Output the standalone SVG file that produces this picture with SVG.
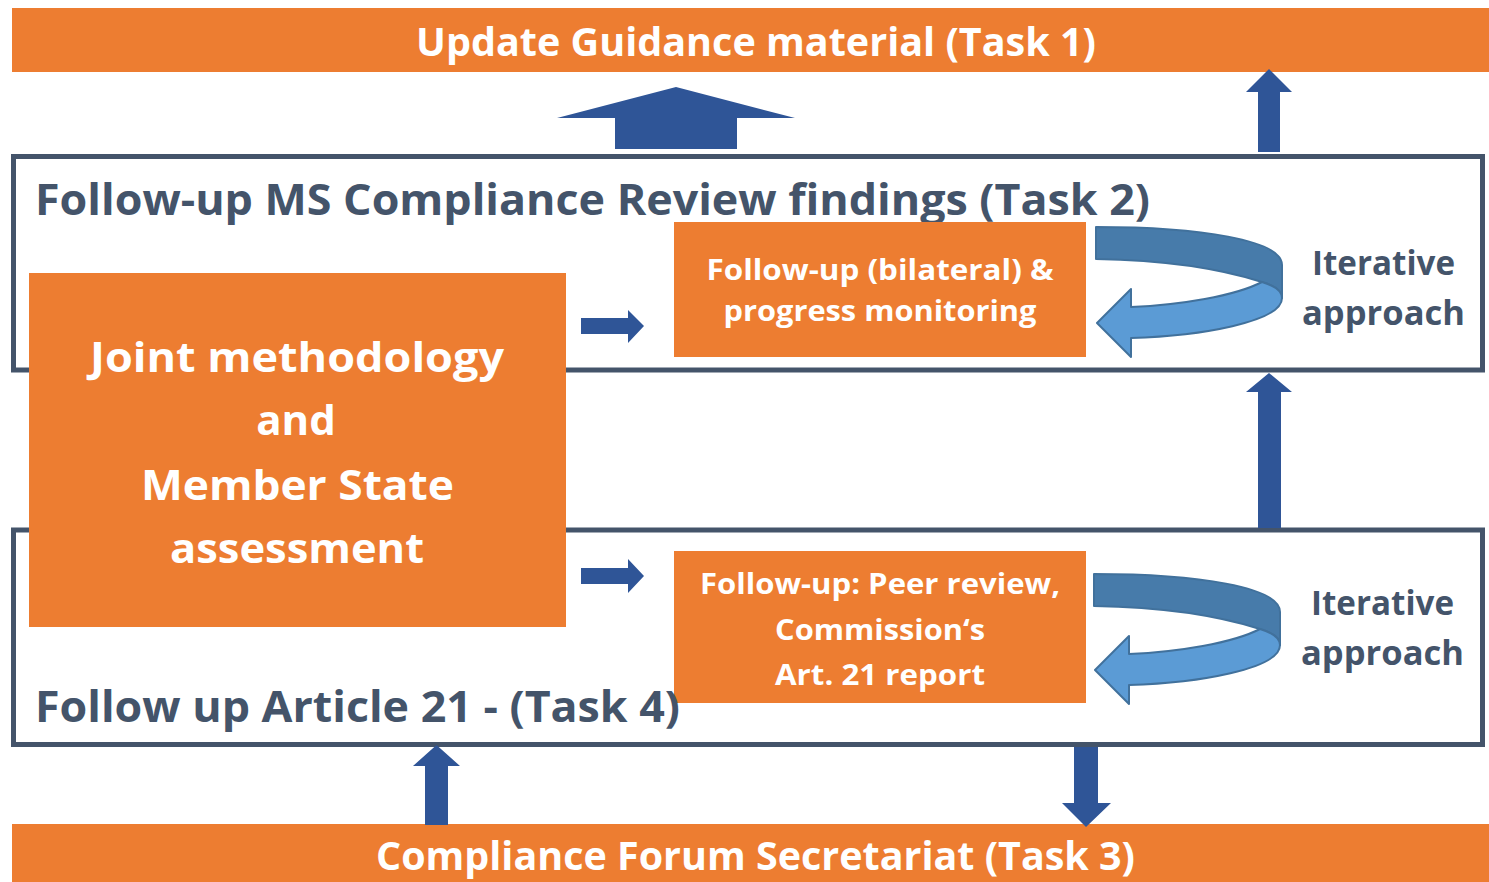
<svg xmlns="http://www.w3.org/2000/svg" xmlns:xlink="http://www.w3.org/1999/xlink" width="1489" height="882" viewBox="0 0 1489 882">
<style>
.bar{fill:#ED7D31}
.box{fill:#ED7D31}
.frame{fill:none;stroke:#44546A;stroke-width:5}
.blue{fill:#2F5597}
.t{font-family:"Open Sans","Noto Sans","Liberation Sans",sans-serif;font-weight:700}
.w{fill:#FFFFFF}
.d{fill:#44546A}
.c{text-anchor:middle}
.back{fill:#477BAA;stroke:#41719C;stroke-width:2;stroke-linejoin:round}
.front{fill:#5B9BD5;stroke:#41719C;stroke-width:2;stroke-linejoin:round}
</style>
<defs>
<g id="loop">
<path class="back" d="M1096,227 C1200,227 1282,240 1282,265 L1282,298 C1282,290 1272,285 1262,282 C1215,267 1160,260 1096,259 Z"/>
<path class="front" d="M1262,282 C1272,285 1282,290 1282,298 C1282,322 1200,336 1131,338 L1131,357 L1097,323 L1131,289 L1131,307 C1180,305 1235,296 1262,282 Z"/>
</g>
</defs>
<rect width="1489" height="882" fill="#FFFFFF"/>

<g id="task1">
<rect class="bar" x="12" y="8" width="1477" height="64"/>
<text class="t w c" x="756" y="56" font-size="39" textLength="680" lengthAdjust="spacingAndGlyphs">Update Guidance material (Task 1)</text>
</g>

<g id="task3">
<rect class="bar" x="12" y="824" width="1477" height="58"/>
<text class="t w c" x="755.5" y="870" font-size="39" textLength="759" lengthAdjust="spacingAndGlyphs">Compliance Forum Secretariat (Task 3)</text>
</g>

<g id="task2">
<rect class="frame" x="13.5" y="156.5" width="1469" height="213.5"/>
<text class="t d" x="35" y="215" font-size="43" textLength="1115" lengthAdjust="spacingAndGlyphs">Follow-up MS Compliance Review findings (Task 2)</text>
</g>

<g id="task4">
<rect class="frame" x="13.5" y="530" width="1469" height="214.5"/>
</g>

<g id="connectors">
<polygon class="blue" points="676,87 795,118 737,118 737,149 615,149 615,118 557,118"/>
<polygon class="blue" points="1269,69 1292,92 1280,92 1280,152 1258,152 1258,92 1246,92"/>
<polygon class="blue" points="1269,373 1292,392 1281,392 1281,528 1258,528 1258,392 1246,392"/>
<polygon class="blue" points="436.5,745 460,766 448,766 448,825 425,825 425,766 413,766"/>
<polygon class="blue" points="1086,827 1111,803 1098,803 1098,747 1074,747 1074,803 1062,803"/>
<polygon class="blue" points="581,318 628,318 628,310 644,326 628,343 628,334 581,334"/>
<polygon class="blue" points="581,568 628,568 628,559 644,576 628,593 628,584 581,584"/>
<use xlink:href="#loop"/>
<use xlink:href="#loop" transform="translate(-2,347)"/>
</g>

<g id="joint">
<rect class="box" x="29" y="273" width="537" height="354"/>
<text class="t w c" font-size="42" x="297" y="372" textLength="414" lengthAdjust="spacingAndGlyphs">Joint methodology</text>
<text class="t w c" font-size="42" x="296" y="435">and</text>
<text class="t w c" font-size="42" x="297.5" y="500" textLength="313" lengthAdjust="spacingAndGlyphs">Member State</text>
<text class="t w c" font-size="42" x="297" y="563" textLength="254" lengthAdjust="spacingAndGlyphs">assessment</text>
</g>

<g id="bilateral">
<rect class="box" x="674" y="222" width="412" height="135"/>
<text class="t w c" font-size="29" x="880" y="280" textLength="347" lengthAdjust="spacingAndGlyphs">Follow-up (bilateral) &amp;</text>
<text class="t w c" font-size="29" x="880" y="321" textLength="313" lengthAdjust="spacingAndGlyphs">progress monitoring</text>
</g>

<g id="peer">
<rect class="box" x="674" y="551" width="412" height="152"/>
<text class="t w c" font-size="29" x="880" y="594" textLength="360" lengthAdjust="spacingAndGlyphs">Follow-up: Peer review,</text>
<text class="t w c" font-size="29" x="880" y="640" textLength="210" lengthAdjust="spacingAndGlyphs">Commission‘s</text>
<text class="t w c" font-size="29" x="880" y="685" textLength="210" lengthAdjust="spacingAndGlyphs">Art. 21 report</text>
</g>

<g id="task4-title">
<text class="t d" x="35" y="722" font-size="43" textLength="645" lengthAdjust="spacingAndGlyphs">Follow up Article 21 - (Task 4)</text>
</g>

<g id="iter1">
<text class="t d c" font-size="34" x="1383.5" y="275" textLength="143" lengthAdjust="spacingAndGlyphs">Iterative</text>
<text class="t d c" font-size="34" x="1383.5" y="325" textLength="163" lengthAdjust="spacingAndGlyphs">approach</text>
</g>

<g id="iter2">
<text class="t d c" font-size="34" x="1382.5" y="615" textLength="143" lengthAdjust="spacingAndGlyphs">Iterative</text>
<text class="t d c" font-size="34" x="1382.5" y="665" textLength="163" lengthAdjust="spacingAndGlyphs">approach</text>
</g>
</svg>
